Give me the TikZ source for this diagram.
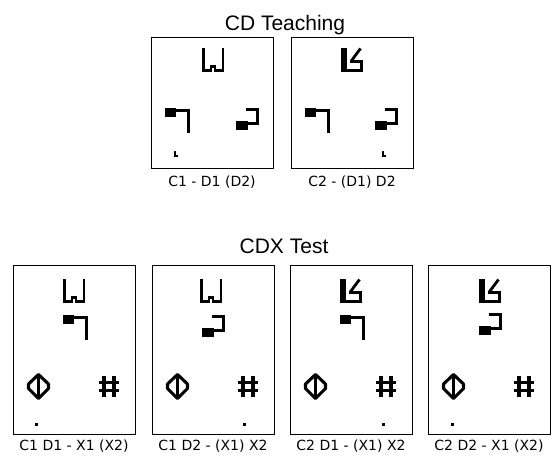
\documentclass[tikz,border=0pt]{standalone}
\usepackage{fontspec}
\setmainfont{Liberation Sans}
\newfontfamily\capfont{DejaVu Sans}
\tikzset{
  panel/.style={draw=black, line width=0.9pt, inner sep=0pt, anchor=north west,
                minimum width=122pt},
  short panel/.style={panel, minimum height=131pt},
  tall panel/.style={panel, minimum height=169pt},
  heading/.style={font=\fontsize{21}{24}\selectfont, inner sep=0pt, anchor=base},
  caption/.style={font=\capfont\fontsize{14}{16}\selectfont, inner sep=0pt, anchor=base},
  cupglyph/.pic={
    \draw[line width=2.6pt, line join=miter]
      (1.3,0) -- (1.3,22.5) -- (9,22.5) -- (9,18.5) -- (13,18.5) -- (13,22.5)
      -- (21,22.5) -- (21,0);
  },
  slantglyph/.pic={
    \fill (0,0) rectangle (6,23.5);
    \fill (0,20.5) rectangle (21.5,23.5);
    \fill (18.5,11.5) rectangle (21.5,23.5);
    \fill (9,11.5) rectangle (21.5,14.5);
    \draw[line width=2.8pt] (10.2,13) -- (19.5,0.5);
  },
  hookdown/.pic={
    \fill (0,0) rectangle (11,8.5);
    \fill (11,0.5) rectangle (25,4);
    \fill (21.5,0.5) rectangle (25,25);
  },
  hookup/.pic={
    \fill (10,0) rectangle (22.5,3);
    \fill (19.5,0) rectangle (22.5,16.5);
    \fill (11,13.5) rectangle (22.5,16.5);
    \fill (0,13) rectangle (12,22);
  },
  diamondglyph/.pic={
    \draw[line width=3.1pt, line join=round]
      (11.5,1.5) -- (21.5,11) -- (21.5,15.5) -- (11.5,25.5)
      -- (1.5,15.5) -- (1.5,11) -- cycle;
    \draw[line width=2.6pt] (11.5,1.5) -- (11.5,25.5);
  },
  hashglyph/.pic={
    \draw[line width=3.4pt]
      (5,0) -- (5,21) (15,0) -- (15,21)
      (0,6.5) -- (20,6.5) (0,14.5) -- (20,14.5);
  },
  dotmark/.pic={\fill (0,0) rectangle (2.6,2.6);},
  tickmark/.pic={
    \fill (0,0) rectangle (1.6,6);
    \fill (0,4) rectangle (3.6,6);
  }
}
\begin{document}
\begin{tikzpicture}[x=1pt, y=-1pt]
\useasboundingbox (0,0) rectangle (553,456);

% teaching displays
\node[heading] (headTeach) at (285,30) {CD Teaching};

\node[short panel] (t1) at (151,37) {};
\node[short panel] (t2) at (291,37) {};

\pic at ([shift={(51,11)}]t1.north west) {cupglyph};
\pic at ([shift={(14,71)}]t1.north west) {hookdown};
\pic at ([shift={(85,71)}]t1.north west) {hookup};
\pic at ([shift={(23,114)}]t1.north west) {tickmark};

\pic at ([shift={(50,11)}]t2.north west) {slantglyph};
\pic at ([shift={(14,71)}]t2.north west) {hookdown};
\pic at ([shift={(84,71)}]t2.north west) {hookup};
\pic at ([shift={(91,114)}]t2.north west) {tickmark};

\node[caption] (capT1) at (212,186) {C1 - D1 (D2)};
\node[caption] (capT2) at (352,186) {C2 - (D1) D2};

% test displays
\node[heading] (headTest) at (284,253) {CDX Test};

\node[tall panel] (b1) at (13,265) {};
\node[tall panel] (b2) at (152,265) {};
\node[tall panel] (b3) at (290,265) {};
\node[tall panel] (b4) at (428,265) {};

\pic at ([shift={(50,14)}]b1.north west) {cupglyph};
\pic at ([shift={(50,50)}]b1.north west) {hookdown};
\pic at ([shift={(48,14)}]b2.north west) {cupglyph};
\pic at ([shift={(50,50)}]b2.north west) {hookup};
\pic at ([shift={(50,14)}]b3.north west) {slantglyph};
\pic at ([shift={(50,50)}]b3.north west) {hookdown};
\pic at ([shift={(51,14)}]b4.north west) {slantglyph};
\pic at ([shift={(51,48)}]b4.north west) {hookup};

\foreach \p in {b1,b2,b3,b4} {
  \pic at ([shift={(14,108)}]\p.north west) {diamondglyph};
  \pic at ([shift={(86,111)}]\p.north west) {hashglyph};
}

\pic at ([shift={(22,158)}]b1.north west) {dotmark};
\pic at ([shift={(91,158)}]b2.north west) {dotmark};
\pic at ([shift={(92,158)}]b3.north west) {dotmark};
\pic at ([shift={(23,158)}]b4.north west) {dotmark};

\node[caption] (capB1) at (74,450) {C1 D1 - X1 (X2)};
\node[caption] (capB2) at (213,450) {C1 D2 - (X1) X2};
\node[caption] (capB3) at (351,450) {C2 D1 - (X1) X2};
\node[caption] (capB4) at (489,450) {C2 D2 - X1 (X2)};
\end{tikzpicture}
\end{document}
